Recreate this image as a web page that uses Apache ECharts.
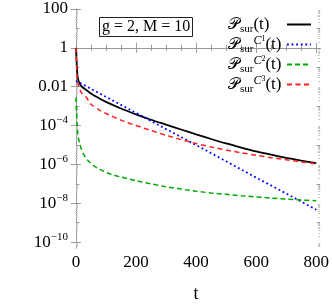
<!DOCTYPE html>
<html><head><meta charset="utf-8">
<script src="https://cdn.jsdelivr.net/npm/echarts@6/dist/echarts.min.js"></script>
<style>html,body{margin:0;padding:0;background:#fff}#c{width:332px;height:308px}</style>
</head><body><div id="c"></div>
<script>
// ---- data (t, survival probability) ----
const tBlack = [0, 1, 3, 5, 8, 13, 20, 35, 50, 80, 100, 150, 200, 250, 300, 350, 400, 450, 500, 550, 600, 650, 700, 750, 800];
const pBlack = [1, 0.5, 0.126, 0.04, 0.0224, 0.0141, 0.01, 0.00676, 0.00447, 0.0024, 0.00166, 7.6e-4, 3.8e-4, 2.0e-4, 1.12e-4, 6.3e-5, 3.55e-5, 2.04e-5, 1.2e-5, 7.4e-6, 4.7e-6, 3.16e-6, 2.19e-6, 1.58e-6, 1.17e-6];

const tBlue = [0, 100, 200, 300, 400, 500, 600, 700, 800];
const pBlue = [0.0204, 0.003, 4.5e-4, 6.6e-5, 1.0e-5, 1.45e-6, 2.1e-7, 3.2e-8, 4.7e-9];

const tGreen = [0, 2, 4, 6, 8, 12, 18, 25, 40, 60, 80, 110, 150, 200, 250, 300, 350, 400, 450, 500, 550, 600, 650, 700, 750, 800];
const pGreen = [2.8e-3, 5e-4, 1.26e-4, 4.5e-5, 2.5e-5, 1.26e-5, 6.3e-6, 3.5e-6, 1.6e-6, 8.3e-7, 5.6e-7, 3.4e-7, 2.24e-7, 1.45e-7, 1.0e-7, 7.1e-8, 5.4e-8, 4.2e-8, 3.4e-8, 2.9e-8, 2.45e-8, 2.14e-8, 1.86e-8, 1.66e-8, 1.48e-8, 1.35e-8];

const tRed = [0, 1, 2, 4, 7, 13, 20, 35, 50, 80, 100, 150, 200, 250, 300, 350, 400, 450, 500, 550, 600, 650, 700, 750, 800];
const pRed = [1, 0.4, 0.126, 0.0316, 0.0141, 0.0071, 0.0045, 0.0028, 0.00126, 6.0e-4, 4.2e-4, 1.9e-4, 1.0e-4, 5.6e-5, 3.16e-5, 1.9e-5, 1.2e-5, 7.9e-6, 5.5e-6, 4.0e-6, 2.95e-6, 2.24e-6, 1.74e-6, 1.35e-6, 1.07e-6];

// ---- ticks and labels ----
const xMajor = [0, 200, 400, 600, 800];
const xMinor = [50, 100, 150, 250, 300, 350, 450, 500, 550, 650, 700, 750];
const yMajorExp = [-10, -8, -6, -4, -2, 0, 2];
const yMajorLabels = ['10^−10', '10^−8', '10^−6', '10^−4', '0.01', '1', '100'];
const yOddExp = [-9, -7, -5, -3, -1, 1];
const seriesNames = ['sur', 'c1', 'c2', 'c3'];
const legendLabels = ['{P|𝒫}{s|sur}{n|(t)}', '{P|𝒫}{s|sur}{C|C}{c|1}{n|(t)}', '{P|𝒫}{s|sur}{C|C}{c|2}{n|(t)}', '{P|𝒫}{s|sur}{C|C}{c|3}{n|(t)}'];

const yMinorExp = [];
for (let n = -11; n <= 1; n++) for (let k = 2; k <= 9; k++) { const v = n + Math.log10(k); if (v > -10.3 && v < 2) yMinorExp.push(v); }

const F = 'Liberation Serif';
const frame = '#9a9a9a';
const toPts = (ts, ps) => ts.map((t, i) => [t, Math.log10(ps[i])]);

const XMIN = -13, XMAX = 813, YMIN = -10.3, YMAX = 2;
function xAx(pos, vals, len, line, labels) {
  return {
    type: 'value', position: pos, min: XMIN, max: XMAX,
    axisLine: { show: line, lineStyle: { color: frame, width: 1 } },
    axisTick: { show: true, inside: true, length: len, customValues: vals, lineStyle: { color: frame } },
    axisLabel: labels ? { customValues: vals, fontFamily: F, fontSize: 17, color: '#000', margin: 6 } : { show: false },
    splitLine: { show: false }
  };
}
function yAx(pos, vals, len, line, labels, col) {
  return {
    type: 'value', position: pos, min: YMIN, max: YMAX,
    axisLine: { show: line, lineStyle: { color: frame, width: 1 } },
    axisTick: { show: true, inside: true, length: len, customValues: vals, lineStyle: { color: col || frame } },
    axisLabel: labels ? {
      customValues: vals, margin: 4, color: '#000',
      formatter: v => {
        const i = yMajorExp.findIndex(e => Math.abs(e - v) < 1e-6);
        const lab = yMajorLabels[i];
        if (lab.indexOf('^') >= 0) { const p = lab.split('^'); return '{b|' + p[0] + '}{e|' + p[1] + '}'; }
        return '{b|' + lab + '}';
      },
      rich: {
        b: { fontFamily: F, fontSize: 17, lineHeight: 22, color: '#000' },
        e: { fontFamily: F, fontSize: 11, lineHeight: 12, verticalAlign: 'top', color: '#000' }
      }
    } : { show: false },
    splitLine: { show: false }
  };
}

const xb = xAx('bottom', xMajor, 5, true, true);
xb.name = 't'; xb.nameLocation = 'middle'; xb.nameGap = 37;
xb.nameTextStyle = { fontFamily: F, fontSize: 18, color: '#000' };

const chart = echarts.init(document.getElementById('c'), null, { renderer: 'canvas' });
chart.setOption({
  animation: false,
  backgroundColor: '#fff',
  grid: { left: 72, right: 10, top: 9, bottom: 49, containLabel: false },
  title: {
    text: 'g = 2, M = 10', left: 99, top: 17,
    borderColor: '#222', borderWidth: 1, padding: [1, 2, 1, 3],
    textStyle: { fontFamily: F, fontSize: 16, fontWeight: 'normal', color: '#000', lineHeight: 18 }
  },
  legend: {
    orient: 'vertical', right: 20, top: 16, align: 'right', padding: 0, itemGap: 0,
    itemWidth: 24, itemHeight: 10, selectedMode: false,
    itemStyle: { color: 'rgba(0,0,0,0)', borderWidth: 0, opacity: 0 },
    data: seriesNames,
    formatter: name => legendLabels[seriesNames.indexOf(name)],
    textStyle: {
      width: 54, color: '#000', fontFamily: F,
      rich: {
        P: { fontFamily: F, fontSize: 16, lineHeight: 20, align: 'left' },
        s: { fontFamily: F, fontSize: 11, lineHeight: 13, verticalAlign: 'bottom', align: 'left' },
        C: { fontFamily: F, fontSize: 12, fontStyle: 'italic', lineHeight: 4, verticalAlign: 'top', align: 'left' },
        c: { fontFamily: F, fontSize: 8, lineHeight: 18, verticalAlign: 'top', align: 'left' },
        n: { fontFamily: F, fontSize: 17, lineHeight: 20, align: 'left' }
      }
    }
  },
  xAxis: [
    xb,
    xAx('bottom', xMinor, 3, false, false),
    xAx('top', xMajor, 5, true, false),
    xAx('top', xMinor, 3, false, false)
  ],
  yAxis: [
    yAx('left', yMajorExp, 5, true, true),
    yAx('left', yOddExp, 3.5, false, false),
    yAx('left', yMinorExp, 2, false, false, '#c4c4c4'),
    yAx('right', yMajorExp, 5, true, false),
    yAx('right', yOddExp, 3.5, false, false),
    yAx('right', yMinorExp, 2, false, false, '#c4c4c4')
  ],
  series: [
    { name: 'sur', type: 'line', data: toPts(tBlack, pBlack), showSymbol: false, symbol: 'none', smooth: 0.25,
      lineStyle: { color: '#000', width: 1.8 }, itemStyle: { color: '#000' } },
    { name: 'c1', type: 'line', data: toPts(tBlue, pBlue), showSymbol: false, symbol: 'none', smooth: false,
      lineStyle: { color: '#0000ff', width: 1.8, type: [1.8, 2.8] }, itemStyle: { color: '#0000ff' } },
    { name: 'c2', type: 'line', data: toPts(tGreen, pGreen), showSymbol: false, symbol: 'none', smooth: 0.25,
      lineStyle: { color: '#00aa00', width: 1.5, type: [5, 3] }, itemStyle: { color: '#00aa00' } },
    { name: 'c3', type: 'line', data: toPts(tRed, pRed), showSymbol: false, symbol: 'none', smooth: 0.25,
      lineStyle: { color: '#ff2020', width: 1.5, type: [5, 3.5] }, itemStyle: { color: '#ff2020' } }
  ]
});
</script></body></html>
